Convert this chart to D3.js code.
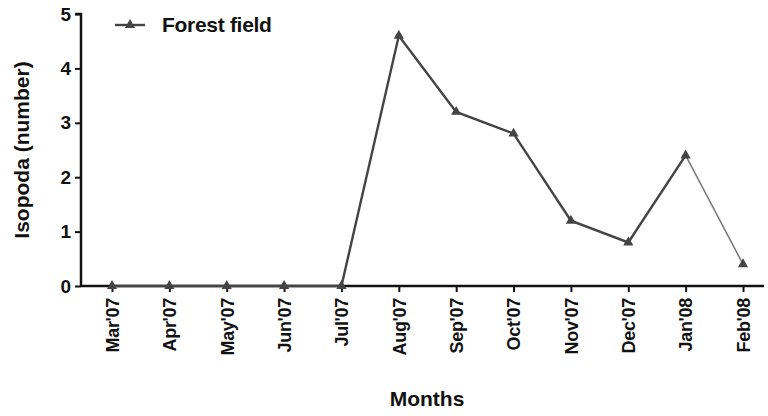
<!DOCTYPE html>
<html>
<head>
<meta charset="utf-8">
<script src="https://cdn.jsdelivr.net/npm/d3@7"></script>
<style>
  body { margin: 0; background: #fff; }
  text { font-family: "Liberation Sans", Arial, sans-serif; }
</style>
</head>
<body>
<svg id="chart" width="768" height="416"></svg>
<script>
const months = ["Mar'07","Apr'07","May'07","Jun'07","Jul'07","Aug'07","Sep'07","Oct'07","Nov'07","Dec'07","Jan'08","Feb'08"];
const forestField = [0, 0, 0, 0, 0, 4.6, 3.2, 2.8, 1.2, 0.8, 2.4, 0.4];
const yTicks = [0, 1, 2, 3, 4, 5];

const margin = {top: 14, right: 4, bottom: 130, left: 81};
const width = 768, height = 416;
const svg = d3.select('#chart');

const x = d3.scalePoint()
    .domain(months)
    .range([112, 743]);

const y = d3.scaleLinear()
    .domain([0, 5])
    .range([286, margin.top]);

const data = months.map((m, i) => ({month: m, value: forestField[i]}));

// y axis
const yAxis = svg.append('g')
    .attr('transform', `translate(${margin.left},0)`)
    .call(d3.axisLeft(y).tickValues(yTicks).tickSize(6).tickPadding(4).tickFormat(d3.format('d')));
yAxis.select('.domain').attr('stroke', '#111').attr('stroke-width', 2.5).attr('d', `M-6,${y(5)}H0V${y(0)}`);
yAxis.selectAll('.tick line').attr('stroke', '#111').attr('stroke-width', 2);
yAxis.selectAll('.tick text')
    .attr('font-size', 19).attr('font-weight', 'bold').attr('fill', '#111')
    .style('font-family', '"Liberation Sans", Arial, sans-serif');

// x axis
const xAxis = svg.append('g')
    .attr('transform', `translate(0,${y(0)})`)
    .call(d3.axisBottom(x).tickSize(6).tickPadding(8));
xAxis.select('.domain').attr('stroke', '#111').attr('stroke-width', 2.5).attr('d', `M${margin.left},0H${width - margin.right}`);
xAxis.selectAll('.tick line').attr('stroke', '#111').attr('stroke-width', 2);
xAxis.selectAll('.tick text')
    .attr('font-size', 18).attr('font-weight', 'bold').attr('fill', '#111')
    .style('font-family', '"Liberation Sans", Arial, sans-serif')
    .attr('letter-spacing', -0.3)
    .attr('transform', 'rotate(-90)')
    .attr('text-anchor', 'end')
    .attr('x', -12)
    .attr('y', 0)
    .attr('dy', '0.35em');

// line
const line = d3.line()
    .x(d => x(d.month))
    .y(d => y(d.value));

svg.append('path')
    .datum(data.slice(0, 11))
    .attr('fill', 'none')
    .attr('stroke', '#444')
    .attr('stroke-width', 2.4)
    .attr('d', line);

svg.append('path')
    .datum(data.slice(10))
    .attr('fill', 'none')
    .attr('stroke', '#777')
    .attr('stroke-width', 1.5)
    .attr('d', line);

const tri = d3.symbol().type(d3.symbolTriangle).size(45);
svg.append('g').selectAll('path')
    .data(data)
    .join('path')
    .attr('transform', d => `translate(${x(d.month)},${y(d.value)})`)
    .attr('d', tri)
    .attr('fill', '#444');

// legend
const legend = svg.append('g').attr('transform', 'translate(115,25)');
legend.append('line')
    .attr('x1', 0).attr('x2', 30)
    .attr('stroke', '#444').attr('stroke-width', 2.4);
legend.append('path')
    .attr('transform', 'translate(15,0)')
    .attr('d', tri)
    .attr('fill', '#444');
legend.append('text')
    .attr('x', 47).attr('y', 0).attr('dy', '0.35em')
    .attr('font-size', 21).attr('fill', '#111')
    .attr('font-weight', 'bold')
    .attr('letter-spacing', -0.3)
    .text('Forest field');

// axis titles
svg.append('text')
    .attr('transform', `translate(22,${(y(0) + y(5)) / 2}) rotate(-90)`)
    .attr('text-anchor', 'middle')
    .attr('dy', '0.35em')
    .attr('font-size', 21).attr('font-weight', 'bold').attr('fill', '#111')
    .text('Isopoda (number)');

svg.append('text')
    .attr('x', 427).attr('y', 406)
    .attr('text-anchor', 'middle')
    .attr('font-size', 21).attr('font-weight', 'bold').attr('fill', '#111')
    .text('Months');
</script>
</body>
</html>
